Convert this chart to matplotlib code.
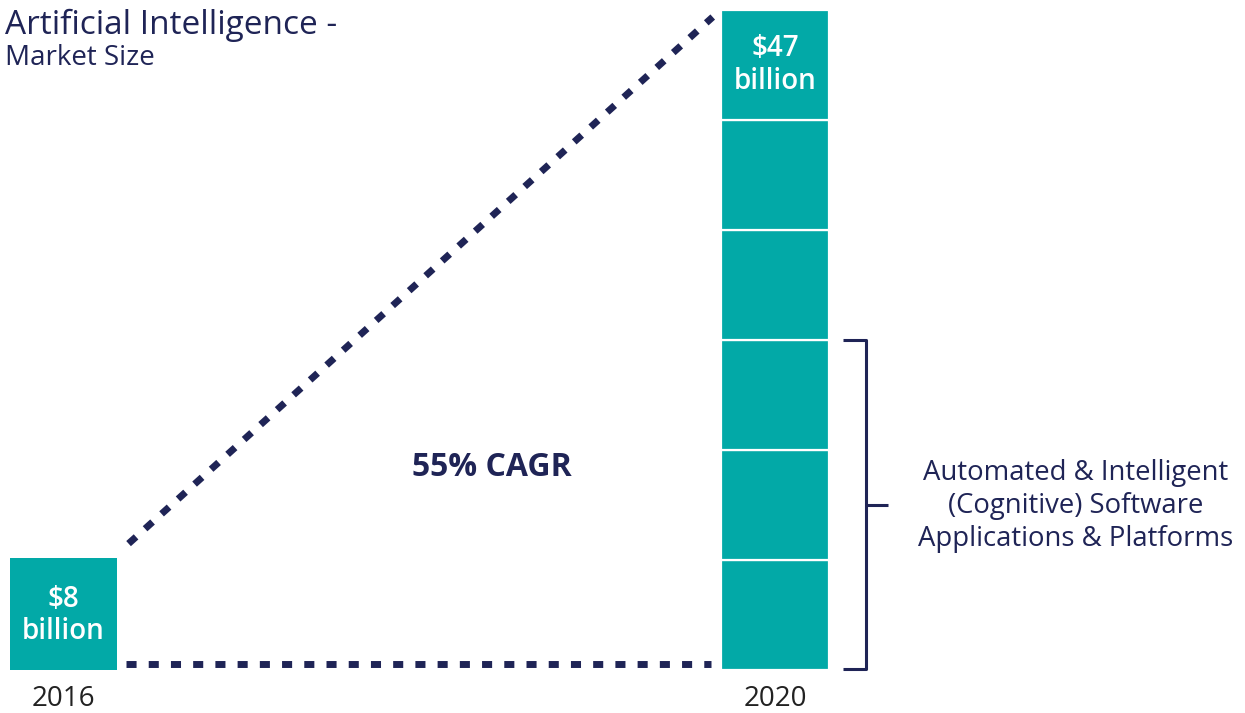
import matplotlib.pyplot as plt

plt.rcParams["font.family"] = ["Open Sans", "DejaVu Sans"]

# ---- data ----
years = ["2016", "2020"]
market_size = [8, 47]            # $ billion
bar_labels = ["$8\nbillion", "$47\nbillion"]
n_segments = 6                   # blocks in the 2020 bar
cagr_label = "55% CAGR"
bracket_label = "Automated & Intelligent\n(Cognitive) Software\nApplications & Platforms"
title_line1 = "Artificial Intelligence -"
title_line2 = "Market Size"

TEAL = "#02a9a7"
NAVY = "#1f2456"
TEXT_DARK = "#222222"

fig = plt.figure(figsize=(12.45, 7.13), dpi=100)
ax = fig.add_axes([0, 0, 1, 1])
ax.axis("off")

# category positions 0 and 1, scaled so the layout matches the picture
x_pos = [0, 1]
bar_w = 0.151
ax.set_xlim(-0.0892, 1.6606)
# 0 at pixel 670 (from top), 47 at pixel 10
px_per_unit = 660 / 47
ax.set_ylim(-(713 - 670) / px_per_unit, 670 / px_per_unit)

# ---- bars ----
ax.bar(x_pos[0], market_size[0], width=bar_w, color=TEAL, linewidth=0)
seg = market_size[1] / n_segments
for i in range(n_segments):
    ax.bar(x_pos[1], seg, bottom=i * seg, width=bar_w, color=TEAL,
           edgecolor="white", linewidth=1.6)

label_kw = dict(ha="center", va="center", color="white", fontsize=20,
                fontweight="semibold", linespacing=1.15)
ax.text(x_pos[0], market_size[0] / 2 - 0.1, bar_labels[0], **label_kw)
ax.text(x_pos[1], market_size[1] - seg / 2, bar_labels[1], **label_kw)

# ---- year labels ----
for x, yr in zip(x_pos, years):
    ax.text(x, -29 / px_per_unit, yr, ha="center", va="center",
            color=TEXT_DARK, fontsize=20)

# ---- dotted growth lines ----
gap_x = 0.012
x0 = x_pos[0] + bar_w / 2 + gap_x
x1 = x_pos[1] - bar_w / 2 - gap_x
dot_style = dict(color=NAVY, linewidth=5.0, dashes=(1.45, 1.75),
                 solid_capstyle="butt", dash_capstyle="butt")
ax.plot([x0, x1 - 0.003], [0.43, 0.43], **dot_style)
ax.plot([x0 + 0.004, x1], [market_size[0] + 1.0, market_size[1] - 0.5], **dot_style)

ax.text(0.602, 14.45, cagr_label, ha="center", va="center",
        color=NAVY, fontsize=23, fontweight="bold")

# ---- bracket for the software segment ----
bx0 = x_pos[1] + bar_w / 2 + 0.02
bx1 = bx0 + 0.033
half = market_size[1] / 2
bracket_kw = dict(color=NAVY, linewidth=2.2, solid_capstyle="butt")
ax.plot([bx0, bx1, bx1, bx0], [half, half, 0.1, 0.1], **bracket_kw)
ax.plot([bx1, bx1 + 0.03], [half / 2, half / 2], **bracket_kw)

ax.text(1.4223, half / 2 - 0.05, bracket_label, ha="center", va="center",
        color=NAVY, fontsize=19.8, linespacing=1.24)

# ---- title ----
fig.text(0.004, 0.965, title_line1, ha="left", va="center", color=NAVY, fontsize=24)
fig.text(0.004, 0.919, title_line2, ha="left", va="center", color=NAVY,
         fontsize=20, fontweight="medium")

fig.savefig("out.png", dpi=100)
